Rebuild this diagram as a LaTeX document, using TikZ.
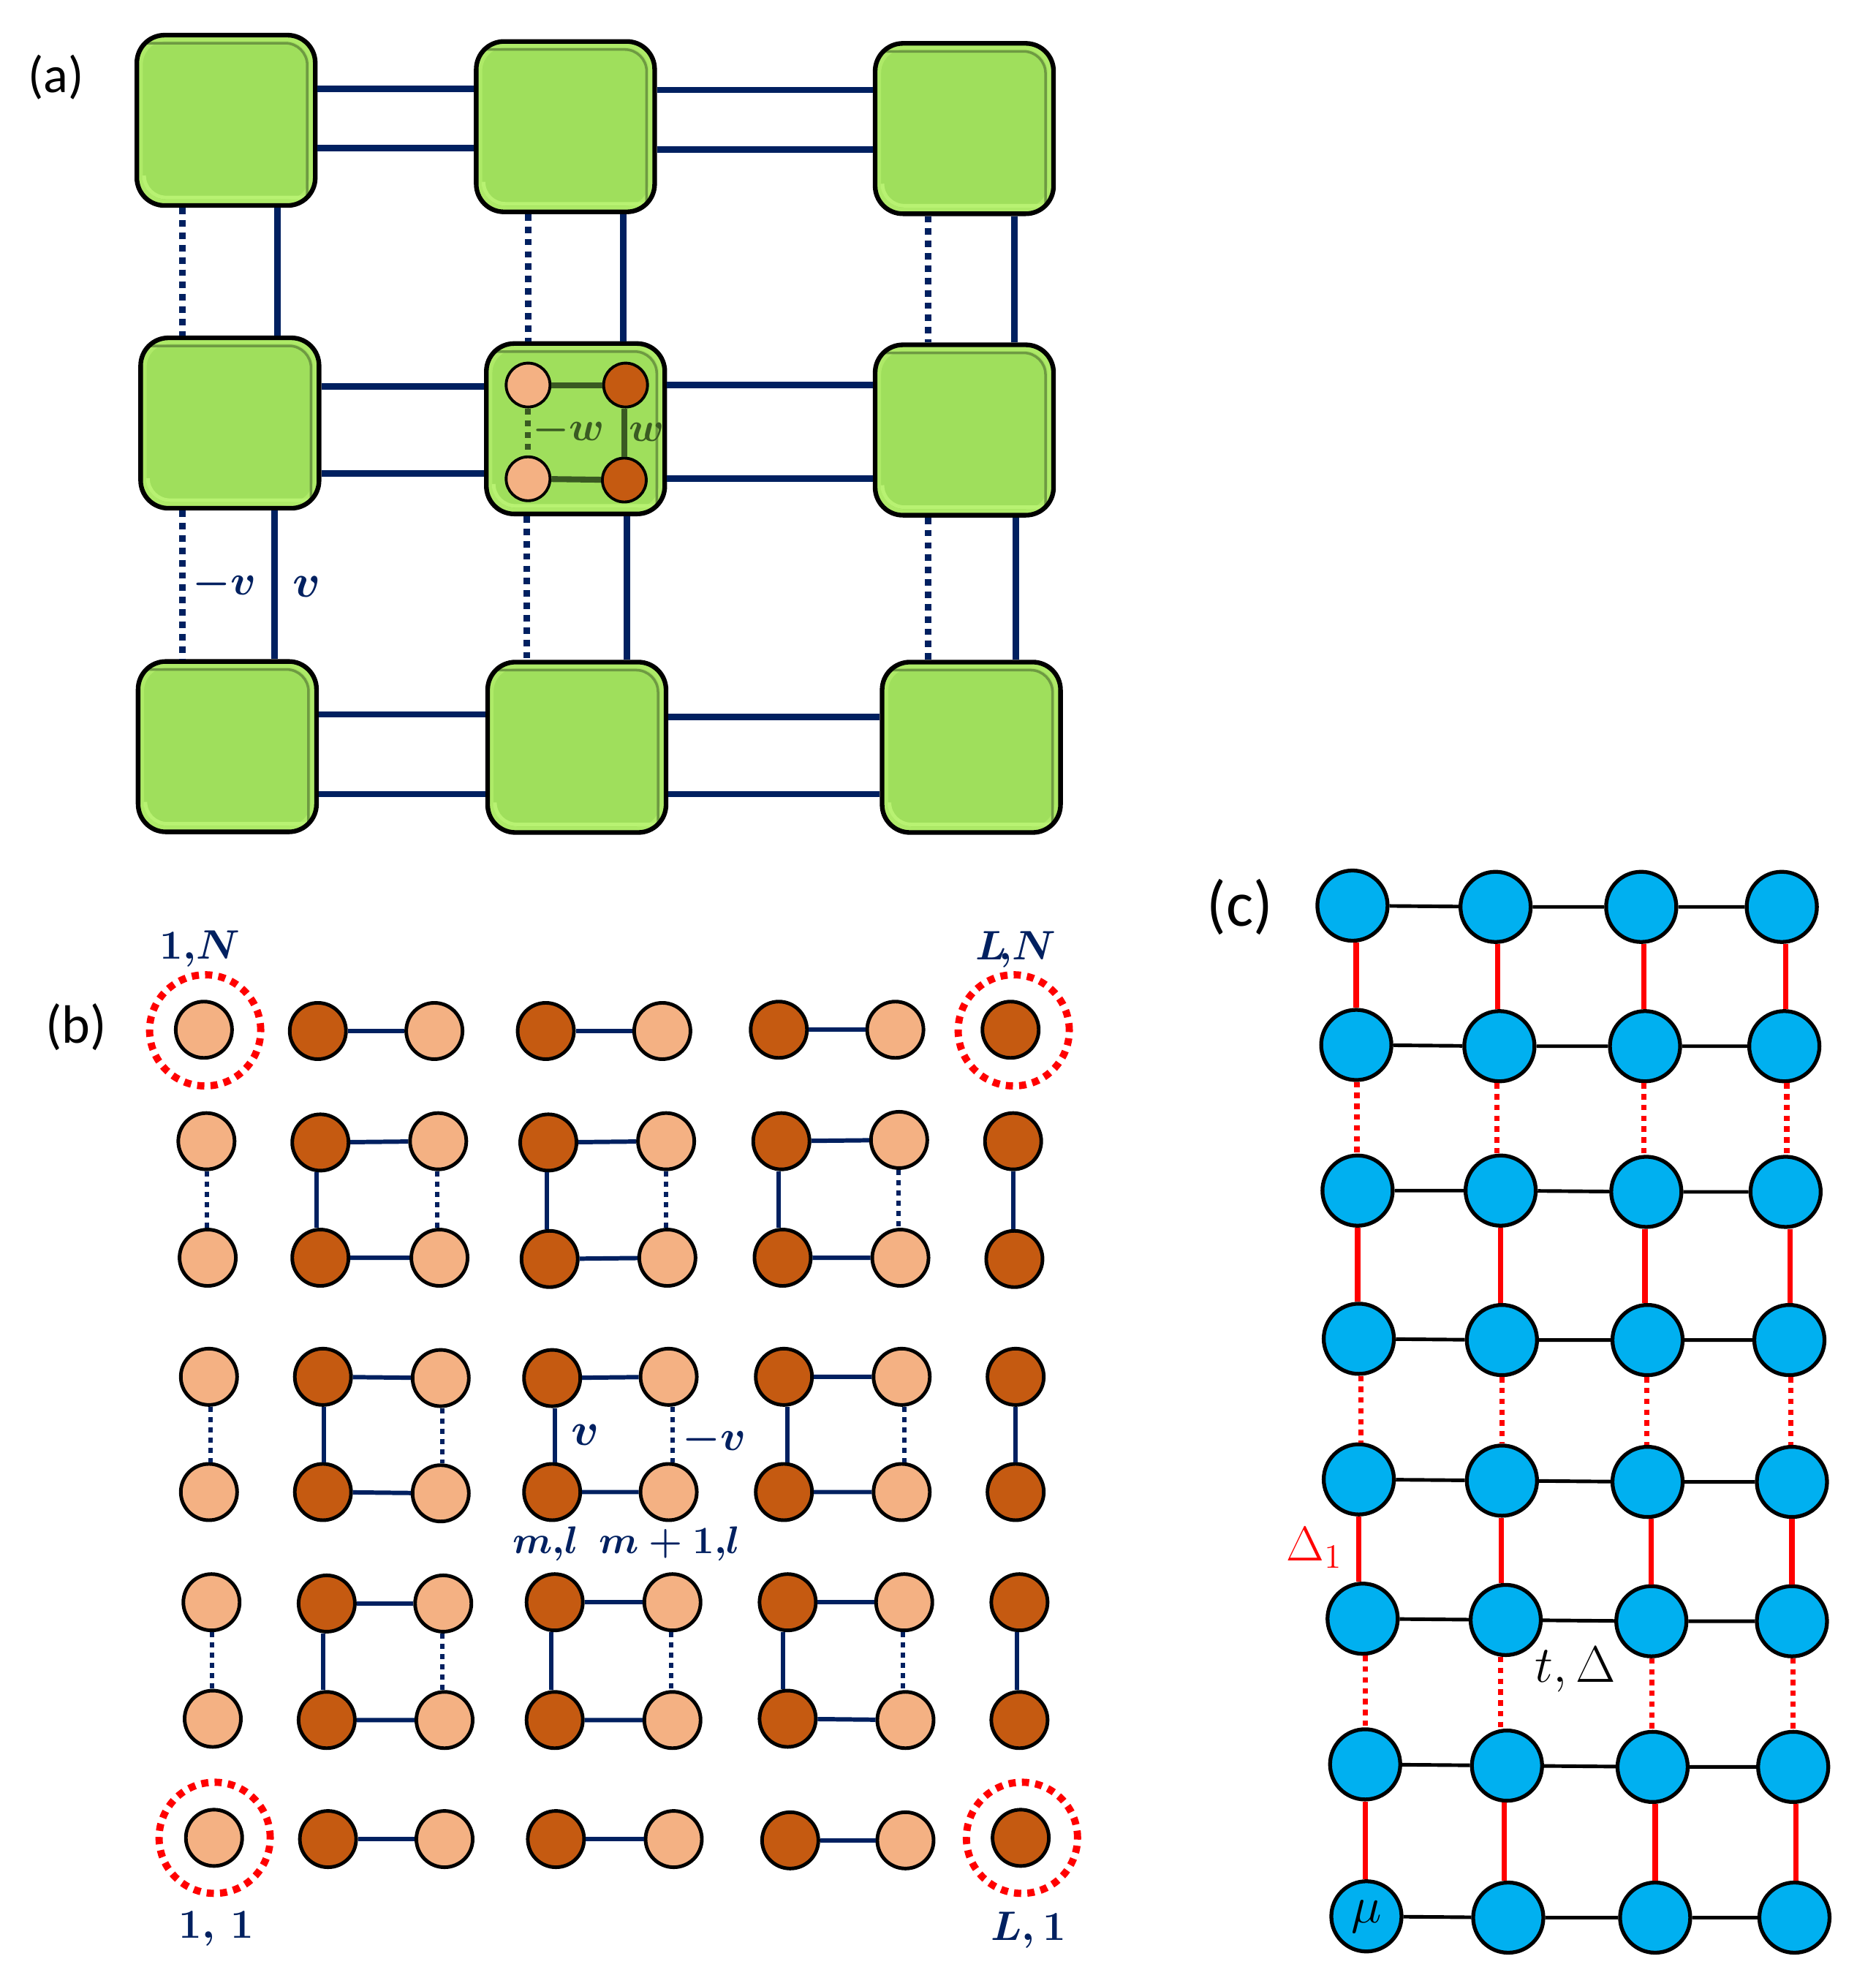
\documentclass[tikz,border=0pt]{standalone}
\usepackage{fix-cm}
\usepackage{amsmath}
\usepackage{amssymb}
\usepackage{fontspec}
\newfontfamily\panelfont{Carlito}
\definecolor{navyline}{HTML}{002060}
\definecolor{boxgreen}{HTML}{9FDF5C}
\definecolor{bevellight}{HTML}{AEEA68}
\definecolor{bevelbright}{HTML}{B8F272}
\definecolor{beveldark}{HTML}{6E9A42}
\definecolor{innergreen}{HTML}{3A5A22}
\definecolor{sitelight}{HTML}{F4B183}
\definecolor{sitedark}{HTML}{C55A11}
\definecolor{siteblue}{HTML}{00B0F0}
\usepackage{tikz}
\newcommand{\boldnum}[1]{\mathbf{#1}}

\begin{document}
\begin{tikzpicture}[x=0.01732cm,y=-0.01732cm,
    greenbox/.style={draw=black,line width=1.8pt,fill=boxgreen,rounded corners=0.38cm,
      minimum width=2.44cm,minimum height=2.33cm,inner sep=0pt,
      path picture={
        \draw[bevellight,line width=2.4pt,rounded corners=0.36cm]
          ([shift={(0.04cm,-0.04cm)}]path picture bounding box.north west) rectangle
          ([shift={(-0.04cm,0.04cm)}]path picture bounding box.south east);
        \draw[beveldark,line width=1pt,rounded corners=0.3cm]
          ([shift={(0.13cm,-0.11cm)}]path picture bounding box.north west) --
          ([shift={(-0.11cm,-0.11cm)}]path picture bounding box.north east) --
          ([shift={(-0.11cm,0.13cm)}]path picture bounding box.south east);
        \draw[bevelbright,line width=1.4pt,rounded corners=0.3cm]
          ([shift={(0.1cm,0.35cm)}]path picture bounding box.south west) --
          ([shift={(0.1cm,0.11cm)}]path picture bounding box.south west) --
          ([shift={(-0.14cm,0.11cm)}]path picture bounding box.south east);
      }},
    smalllight/.style={circle,draw=black,line width=1.1pt,fill=sitelight,minimum size=0.6cm,inner sep=0pt},
    smalldark/.style={smalllight,fill=sitedark},
    lightsite/.style={circle,draw=black,line width=1.4pt,fill=sitelight,minimum size=0.77cm,inner sep=0pt},
    darksite/.style={lightsite,fill=sitedark},
    bluesite/.style={circle,draw=black,line width=1.5pt,fill=siteblue,minimum size=0.96cm,inner sep=0pt,font=\fontsize{20}{22}\selectfont},
    redring/.style={circle,draw=red,line width=2.8pt,dash pattern=on 2.8pt off 2.4pt,minimum size=1.52cm,inner sep=0pt},
    thickhop/.style={navyline,line width=2.5pt},
    thickdots/.style={thickhop,dash pattern=on 2.5pt off 2.3pt},
    innerhop/.style={innergreen,line width=2.3pt},
    innerdots/.style={innerhop,dash pattern=on 2.3pt off 2.3pt},
    thinhop/.style={navyline,line width=1.7pt},
    thindots/.style={thinhop,dash pattern=on 2pt off 2pt},
    blackhop/.style={black,line width=1.4pt},
    redhop/.style={red,line width=2.1pt},
    reddots/.style={redhop,dash pattern=on 2.1pt off 2.1pt},
    panellabel/.style={font=\panelfont\fontsize{20}{24}\selectfont},
    navylabel/.style={text=navyline,font=\fontsize{15}{18}\selectfont\boldmath},
    cornerlabel/.style={navylabel,font=\fontsize{16}{18}\selectfont\boldmath},
    vlabel/.style={navylabel,font=\fontsize{18}{20}\selectfont\boldmath},
    mvlabel/.style={navylabel,font=\fontsize{16.5}{20}\selectfont\boldmath},
    greenlabel/.style={text=innergreen,font=\fontsize{16}{20}\selectfont\boldmath},
    redlabel/.style={text=red,font=\fontsize{19}{22}\selectfont},
    blacklabel/.style={text=black,font=\fontsize{20}{22}\selectfont}]
    \useasboundingbox (0,0) rectangle (1481,1568);

    \node[panellabel] (labela) at (44,61) {(a)};
    \node[panellabel,font=\panelfont\fontsize{21}{24}\selectfont] (labelb) at (60,811) {(b)};
    \node[panellabel,font=\panelfont\fontsize{25}{28}\selectfont] (labelc) at (979,716) {(c)};

    \node[greenbox] (a11) at (178.5,95) {};
    \node[greenbox] (a12) at (446.5,100) {};
    \node[greenbox] (a13) at (761.5,101.5) {};
    \node[greenbox] (a21) at (181.5,334) {};
    \node[greenbox] (a22) at (454.5,338.5) {};
    \node[greenbox] (a23) at (761.5,339.5) {};
    \node[greenbox] (a31) at (179.5,589.5) {};
    \node[greenbox] (a32) at (455.5,590) {};
    \node[greenbox] (a33) at (767,590) {};

    \draw[thickhop] (a11.east |- 0,70) -- (a12.west |- 0,70);
    \draw[thickhop] (a11.east |- 0,117) -- (a12.west |- 0,117);
    \draw[thickhop] (a12.east |- 0,71) -- (a13.west |- 0,71);
    \draw[thickhop] (a12.east |- 0,118) -- (a13.west |- 0,118);
    \draw[thickhop] (a21.east |- 0,305) -- (a22.west |- 0,305);
    \draw[thickhop] (a21.east |- 0,374) -- (a22.west |- 0,374);
    \draw[thickhop] (a22.east |- 0,304) -- (a23.west |- 0,304);
    \draw[thickhop] (a22.east |- 0,378) -- (a23.west |- 0,378);
    \draw[thickhop] (a31.east |- 0,564) -- (a32.west |- 0,564);
    \draw[thickhop] (a31.east |- 0,627) -- (a32.west |- 0,627);
    \draw[thickhop] (a32.east |- 0,566) -- (a33.west |- 0,566);
    \draw[thickhop] (a32.east |- 0,627) -- (a33.west |- 0,627);

    \draw[thickdots] (a11.south -| 144,0) -- (a21.north -| 144,0);
    \draw[thickhop] (a11.south -| 219,0) -- (a21.north -| 219,0);
    \draw[thickdots] (a12.south -| 417,0) -- (a22.north -| 417,0);
    \draw[thickhop] (a12.south -| 492,0) -- (a22.north -| 492,0);
    \draw[thickdots] (a13.south -| 733,0) -- (a23.north -| 733,0);
    \draw[thickhop] (a13.south -| 801,0) -- (a23.north -| 801,0);
    \draw[thickdots] (a21.south -| 144,0) -- (a31.north -| 144,0);
    \draw[thickhop] (a21.south -| 217,0) -- (a31.north -| 217,0);
    \draw[thickdots] (a22.south -| 416,0) -- (a32.north -| 416,0);
    \draw[thickhop] (a22.south -| 495,0) -- (a32.north -| 495,0);
    \draw[thickdots] (a23.south -| 733,0) -- (a33.north -| 733,0);
    \draw[thickhop] (a23.south -| 802,0) -- (a33.north -| 802,0);

    \node[smalllight] (s1) at (417,304) {};
    \node[smalldark] (s2) at (494,304) {};
    \node[smalllight] (s3) at (417,378) {};
    \node[smalldark] (s4) at (493,379) {};
    \draw[innerhop] (s1) -- (s2);
    \draw[innerhop] (s3) -- (s4);
    \draw[innerhop] (s2.south -| 493,0) -- (s4);
    \draw[innerdots] (s1) -- (s3);
    \node[greenlabel] (labmw) at (449,340) {$-\boldsymbol{w}$};
    \node[greenlabel] (labw) at (511,341) {$\boldsymbol{w}$};

    \node[mvlabel] (labmv) at (177,461) {$-\boldsymbol{v}$};
    \node[vlabel] (labv) at (242,463) {$\boldsymbol{v}$};

    \node[lightsite] (b11) at (161,813) {};
    \node[darksite] (b12) at (251,814) {};
    \node[lightsite] (b13) at (343,814) {};
    \node[darksite] (b14) at (431,814) {};
    \node[lightsite] (b15) at (523,814) {};
    \node[darksite] (b16) at (615,813) {};
    \node[lightsite] (b17) at (707,813) {};
    \node[darksite] (b18) at (798,813) {};

    \node[lightsite] (b21) at (163,901) {};
    \node[darksite] (b22) at (253,902) {};
    \node[lightsite] (b23) at (346,901) {};
    \node[darksite] (b24) at (433,902) {};
    \node[lightsite] (b25) at (526,901) {};
    \node[darksite] (b26) at (617,901) {};
    \node[lightsite] (b27) at (710,900) {};
    \node[darksite] (b28) at (800,901) {};

    \node[lightsite] (b31) at (164,993) {};
    \node[darksite] (b32) at (253,993) {};
    \node[lightsite] (b33) at (347,993) {};
    \node[darksite] (b34) at (434,994) {};
    \node[lightsite] (b35) at (527,993) {};
    \node[darksite] (b36) at (618,993) {};
    \node[lightsite] (b37) at (711,993) {};
    \node[darksite] (b38) at (801,994) {};

    \node[lightsite] (b41) at (165,1087) {};
    \node[darksite] (b42) at (255,1087) {};
    \node[lightsite] (b43) at (348,1088) {};
    \node[darksite] (b44) at (436,1088) {};
    \node[lightsite] (b45) at (528,1087) {};
    \node[darksite] (b46) at (619,1087) {};
    \node[lightsite] (b47) at (712,1087) {};
    \node[darksite] (b48) at (802,1087) {};

    \node[lightsite] (b51) at (165,1178) {};
    \node[darksite] (b52) at (255,1178) {};
    \node[lightsite] (b53) at (348,1179) {};
    \node[darksite] (b54) at (436,1178) {};
    \node[lightsite] (b55) at (528,1178) {};
    \node[darksite] (b56) at (619,1178) {};
    \node[lightsite] (b57) at (712,1178) {};
    \node[darksite] (b58) at (802,1178) {};

    \node[lightsite] (b61) at (167,1265) {};
    \node[darksite] (b62) at (258,1266) {};
    \node[lightsite] (b63) at (350,1266) {};
    \node[darksite] (b64) at (438,1265) {};
    \node[lightsite] (b65) at (531,1265) {};
    \node[darksite] (b66) at (622,1265) {};
    \node[lightsite] (b67) at (714,1265) {};
    \node[darksite] (b68) at (805,1265) {};

    \node[lightsite] (b71) at (168,1357) {};
    \node[darksite] (b72) at (258,1358) {};
    \node[lightsite] (b73) at (351,1358) {};
    \node[darksite] (b74) at (438,1358) {};
    \node[lightsite] (b75) at (531,1358) {};
    \node[darksite] (b76) at (622,1357) {};
    \node[lightsite] (b77) at (715,1358) {};
    \node[darksite] (b78) at (805,1358) {};

    \node[lightsite] (b81) at (169,1451) {};
    \node[darksite] (b82) at (259,1452) {};
    \node[lightsite] (b83) at (351,1452) {};
    \node[darksite] (b84) at (439,1452) {};
    \node[lightsite] (b85) at (532,1452) {};
    \node[darksite] (b86) at (624,1453) {};
    \node[lightsite] (b87) at (715,1453) {};
    \node[darksite] (b88) at (806,1451) {};

    \draw[thinhop] (b12) -- (b13) (b14) -- (b15) (b16) -- (b17);
    \draw[thinhop] (b22) -- (b23) (b24) -- (b25) (b26) -- (b27);
    \draw[thinhop] (b32) -- (b33) (b34) -- (b35) (b36) -- (b37);
    \draw[thinhop] (b42) -- (b43) (b44) -- (b45) (b46) -- (b47);
    \draw[thinhop] (b52) -- (b53) (b54) -- (b55) (b56) -- (b57);
    \draw[thinhop] (b62) -- (b63) (b64) -- (b65) (b66) -- (b67);
    \draw[thinhop] (b72) -- (b73) (b74) -- (b75) (b76) -- (b77);
    \draw[thinhop] (b82) -- (b83) (b84) -- (b85) (b86) -- (b87);

    \draw[thindots] (b21.south -| 163.5,0) -- (b31.north -| 163.5,0);
    \draw[thinhop] (b22.south -| 250,0) -- (b32.north -| 250,0);
    \draw[thindots] (b23.south -| 345,0) -- (b33.north -| 345,0);
    \draw[thinhop] (b24.south -| 432,0) -- (b34.north -| 432,0);
    \draw[thindots] (b25.south -| 526,0) -- (b35.north -| 526,0);
    \draw[thinhop] (b26.south -| 615,0) -- (b36.north -| 615,0);
    \draw[thindots] (b27.south -| 709.5,0) -- (b37.north -| 709.5,0);
    \draw[thinhop] (b28.south -| 800,0) -- (b38.north -| 800,0);

    \draw[thindots] (b41.south -| 166,0) -- (b51.north -| 166,0);
    \draw[thinhop] (b42.south -| 256,0) -- (b52.north -| 256,0);
    \draw[thindots] (b43.south -| 349,0) -- (b53.north -| 349,0);
    \draw[thinhop] (b44.south -| 438,0) -- (b54.north -| 438,0);
    \draw[thindots] (b45.south -| 531,0) -- (b55.north -| 531,0);
    \draw[thinhop] (b46.south -| 622,0) -- (b56.north -| 622,0);
    \draw[thindots] (b47.south -| 714,0) -- (b57.north -| 714,0);
    \draw[thinhop] (b48.south -| 802,0) -- (b58.north -| 802,0);

    \draw[thindots] (b61.south -| 167.5,0) -- (b71.north -| 167.5,0);
    \draw[thinhop] (b62.south -| 255,0) -- (b72.north -| 255,0);
    \draw[thindots] (b63.south -| 349.5,0) -- (b73.north -| 349.5,0);
    \draw[thinhop] (b64.south -| 435.5,0) -- (b74.north -| 435.5,0);
    \draw[thindots] (b65.south -| 530,0) -- (b75.north -| 530,0);
    \draw[thinhop] (b66.south -| 618.5,0) -- (b76.north -| 618.5,0);
    \draw[thindots] (b67.south -| 713,0) -- (b77.north -| 713,0);
    \draw[thinhop] (b68.south -| 803,0) -- (b78.north -| 803,0);

    \node[redring] (ring1) at (162,813.5) {};
    \node[redring] (ring2) at (800.5,813.5) {};
    \node[redring] (ring3) at (169.5,1451) {};
    \node[redring] (ring4) at (807,1451) {};

    \node[cornerlabel] (lab1N) at (158,749) {$\boldnum{1}{,}\boldsymbol{N}$};
    \node[cornerlabel] (labLN) at (802,750) {$\boldsymbol{L}\!{,}\boldsymbol{N}$};
    \node[cornerlabel] (lab11) at (171,1523) {$\boldnum{1},\,\boldnum{1}$};
    \node[cornerlabel] (labL1) at (812,1524) {$\boldsymbol{L},\boldnum{1}$};
    \node[vlabel] (labbv) at (462,1133) {$\boldsymbol{v}$};
    \node[mvlabel] (labbmv) at (564,1137) {$-\boldsymbol{v}$};
    \node[navylabel] (labml) at (431,1219) {$\boldsymbol{m}{,}\boldsymbol{l}$};
    \node[navylabel] (labmpl) at (529,1219) {$\boldsymbol{m}+\boldnum{1}{,}\boldsymbol{l}$};

    \node[bluesite] (c11) at (1068,715) {};
    \node[bluesite] (c12) at (1181,716) {};
    \node[bluesite] (c13) at (1296,716) {};
    \node[bluesite] (c14) at (1407,716) {};
    \node[bluesite] (c21) at (1071,825) {};
    \node[bluesite] (c22) at (1184,826) {};
    \node[bluesite] (c23) at (1299,826) {};
    \node[bluesite] (c24) at (1409,826) {};
    \node[bluesite] (c31) at (1072,940) {};
    \node[bluesite] (c32) at (1185,940) {};
    \node[bluesite] (c33) at (1300,941) {};
    \node[bluesite] (c34) at (1410,941) {};
    \node[bluesite] (c41) at (1073,1057) {};
    \node[bluesite] (c42) at (1186,1058) {};
    \node[bluesite] (c43) at (1301,1058) {};
    \node[bluesite] (c44) at (1413,1058) {};
    \node[bluesite] (c51) at (1073,1168) {};
    \node[bluesite] (c52) at (1186,1169) {};
    \node[bluesite] (c53) at (1301,1170) {};
    \node[bluesite] (c54) at (1415,1170) {};
    \node[bluesite] (c61) at (1076,1278) {};
    \node[bluesite] (c62) at (1189,1279) {};
    \node[bluesite] (c63) at (1304,1280) {};
    \node[bluesite] (c64) at (1415,1280) {};
    \node[bluesite] (c71) at (1078,1393) {};
    \node[bluesite] (c72) at (1190,1394) {};
    \node[bluesite] (c73) at (1305,1395) {};
    \node[bluesite] (c74) at (1416,1395) {};
    \node[bluesite] (c81) at (1079,1513) {$\mu$};
    \node[bluesite] (c82) at (1191,1514) {};
    \node[bluesite] (c83) at (1307,1514) {};
    \node[bluesite] (c84) at (1417,1514) {};

    \draw[blackhop] (c11) -- (c12) -- (c13) -- (c14);
    \draw[blackhop] (c21) -- (c22) -- (c23) -- (c24);
    \draw[blackhop] (c31) -- (c32) -- (c33) -- (c34);
    \draw[blackhop] (c41) -- (c42) -- (c43) -- (c44);
    \draw[blackhop] (c51) -- (c52) -- (c53) -- (c54);
    \draw[blackhop] (c61) -- (c62) -- (c63) -- (c64);
    \draw[blackhop] (c71) -- (c72) -- (c73) -- (c74);
    \draw[blackhop] (c81) -- (c82) -- (c83) -- (c84);

    \draw[redhop] (c11.south -| 1071,0) -- (c21.north -| 1071,0);
    \draw[redhop] (c12.south -| 1182.5,0) -- (c22.north -| 1182.5,0);
    \draw[redhop] (c13.south -| 1298,0) -- (c23.north -| 1298,0);
    \draw[redhop] (c14.south -| 1410,0) -- (c24.north -| 1410,0);
    \draw[reddots] (c21.south -| 1071.5,0) -- (c31.north -| 1071.5,0);
    \draw[reddots] (c22.south -| 1182,0) -- (c32.north -| 1182,0);
    \draw[reddots] (c23.south -| 1298,0) -- (c33.north -| 1298,0);
    \draw[reddots] (c24.south -| 1411,0) -- (c34.north -| 1411,0);
    \draw[redhop] (c31.south -| 1072,0) -- (c41.north -| 1072,0);
    \draw[redhop] (c32.south -| 1185,0) -- (c42.north -| 1185,0);
    \draw[redhop] (c33.south -| 1299,0) -- (c43.north -| 1299,0);
    \draw[redhop] (c34.south -| 1413.5,0) -- (c44.north -| 1413.5,0);
    \draw[reddots] (c41.south -| 1074.5,0) -- (c51.north -| 1074.5,0);
    \draw[reddots] (c42.south -| 1186,0) -- (c52.north -| 1186,0);
    \draw[reddots] (c43.south -| 1300.5,0) -- (c53.north -| 1300.5,0);
    \draw[reddots] (c44.south -| 1414,0) -- (c54.north -| 1414,0);
    \draw[redhop] (c51.south -| 1073,0) -- (c61.north -| 1073,0);
    \draw[redhop] (c52.south -| 1185.5,0) -- (c62.north -| 1185.5,0);
    \draw[redhop] (c53.south -| 1304,0) -- (c63.north -| 1304,0);
    \draw[redhop] (c54.south -| 1415,0) -- (c64.north -| 1415,0);
    \draw[reddots] (c61.south -| 1078,0) -- (c71.north -| 1078,0);
    \draw[reddots] (c62.south -| 1185,0) -- (c72.north -| 1185,0);
    \draw[reddots] (c63.south -| 1304.5,0) -- (c73.north -| 1304.5,0);
    \draw[reddots] (c64.south -| 1416,0) -- (c74.north -| 1416,0);
    \draw[redhop] (c71.south -| 1078,0) -- (c81.north -| 1078,0);
    \draw[redhop] (c72.south -| 1188,0) -- (c82.north -| 1188,0);
    \draw[redhop] (c73.south -| 1307,0) -- (c83.north -| 1307,0);
    \draw[redhop] (c74.south -| 1418,0) -- (c84.north -| 1418,0);

    \node[redlabel] (labd1) at (1038,1222) {$\Delta_1$};
    \node[blacklabel] (labtd) at (1244,1318) {$t,\Delta$};
\end{tikzpicture}
\end{document}
